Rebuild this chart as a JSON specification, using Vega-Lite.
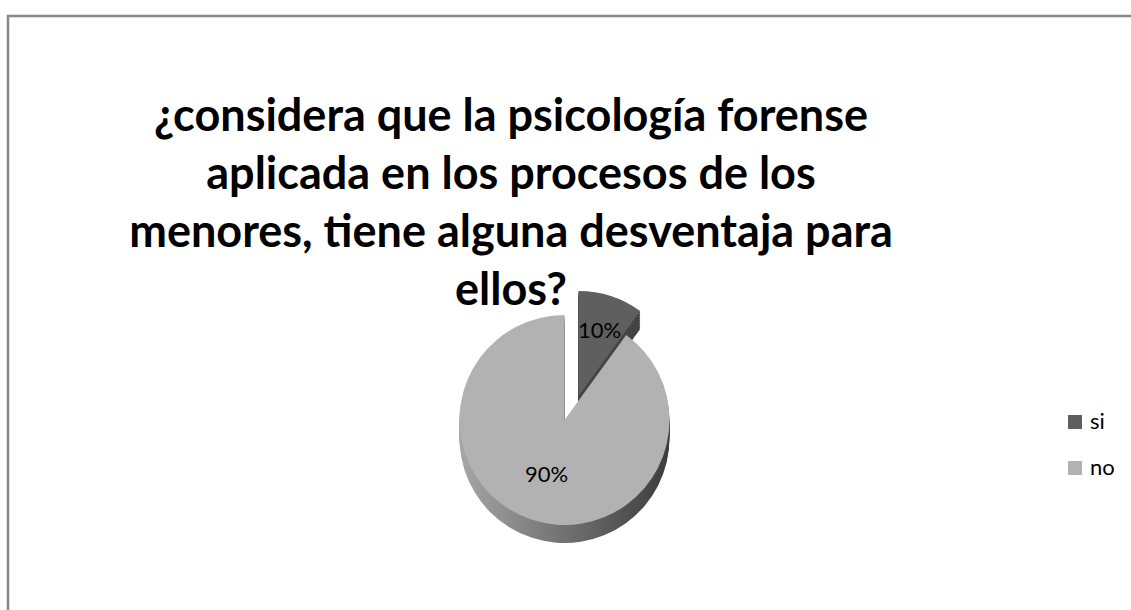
{
  "$schema": "https://vega.github.io/schema/vega-lite/v6.json",
  "width": 1160,
  "height": 700,
  "autosize": {"type": "none"},
  "padding": {"left": 8, "top": 16, "right": -37, "bottom": -106},
  "background": "white",
  "view": {"stroke": "#888888", "strokeWidth": 2.5},
  "title": {
    "text": ["¿considera que la psicología forense", "aplicada en los procesos de los", "menores, tiene alguna desventaja para", "ellos?"],
    "font": "Lato",
    "fontSize": 45,
    "fontWeight": "bold",
    "color": "#000000",
    "lineHeight": 58,
    "anchor": "middle",
    "baseline": "alphabetic",
    "dx": -77,
    "dy": 334,
    "offset": 0
  },
  "data": {
    "values": [
      {"respuesta": "si", "porcentaje": 10, "orden": 1, "etiqueta": "10%"},
      {"respuesta": "no", "porcentaje": 90, "orden": 2, "etiqueta": "90%"}
    ]
  },
  "layer": [
    {
      "transform": [
        {"stack": "porcentaje", "groupby": [], "sort": [{"field": "orden", "order": "ascending"}], "as": ["inicio", "fin"]}
      ],
      "encoding": {
        "theta": {"field": "inicio", "type": "quantitative", "scale": {"domain": [0, 100]}},
        "theta2": {"field": "fin"}
      },
      "layer": [
        {"transform": [{"filter": "datum.respuesta === 'si'"}], "mark": {"type": "arc", "radius": 105, "fill": "#444444", "xOffset": -9.5, "yOffset": 48}},
        {"transform": [{"filter": "datum.respuesta === 'si'"}], "mark": {"type": "arc", "radius": 105, "fill": "#444444", "xOffset": -9.5, "yOffset": 46.5}},
        {"transform": [{"filter": "datum.respuesta === 'si'"}], "mark": {"type": "arc", "radius": 105, "fill": "#444444", "xOffset": -9.5, "yOffset": 45}},
        {"transform": [{"filter": "datum.respuesta === 'si'"}], "mark": {"type": "arc", "radius": 105, "fill": "#444444", "xOffset": -9.5, "yOffset": 43.5}},
        {"transform": [{"filter": "datum.respuesta === 'si'"}], "mark": {"type": "arc", "radius": 105, "fill": "#444444", "xOffset": -9.5, "yOffset": 42}},
        {"transform": [{"filter": "datum.respuesta === 'si'"}], "mark": {"type": "arc", "radius": 105, "fill": "#444444", "xOffset": -9.5, "yOffset": 40.5}},
        {"transform": [{"filter": "datum.respuesta === 'si'"}], "mark": {"type": "arc", "radius": 105, "fill": "#444444", "xOffset": -9.5, "yOffset": 39}},
        {"transform": [{"filter": "datum.respuesta === 'si'"}], "mark": {"type": "arc", "radius": 105, "fill": "#444444", "xOffset": -9.5, "yOffset": 37.5}},
        {"transform": [{"filter": "datum.respuesta === 'si'"}], "mark": {"type": "arc", "radius": 105, "fill": "#444444", "xOffset": -9.5, "yOffset": 36}},
        {"transform": [{"filter": "datum.respuesta === 'si'"}], "mark": {"type": "arc", "radius": 105, "fill": "#444444", "xOffset": -9.5, "yOffset": 34.5}},
        {"transform": [{"filter": "datum.respuesta === 'si'"}], "mark": {"type": "arc", "radius": 105, "fill": "#444444", "xOffset": -9.5, "yOffset": 33}},
        {"transform": [{"filter": "datum.respuesta === 'si'"}], "mark": {"type": "arc", "radius": 105, "fill": "#444444", "xOffset": -9.5, "yOffset": 31.5}},
        {
          "transform": [{"filter": "datum.respuesta === 'si'"}],
          "mark": {"type": "arc", "radius": 105, "xOffset": -9.5, "yOffset": 30},
          "encoding": {
            "color": {"field": "respuesta", "type": "nominal", "scale": {"domain": ["si", "no"], "range": ["#5f5f5f", "#b2b2b2"]},
              "legend": {"title": null, "orient": "none", "legendX": 1056, "legendY": 395, "symbolType": "square", "symbolSize": 196, "symbolStrokeWidth": 0, "labelFont": "Lato", "labelFontSize": 22, "labelColor": "#000000", "labelOffset": 4, "rowPadding": 24}}
          }
        },
        {"transform": [{"filter": "datum.respuesta === 'no'"}], "mark": {"type": "arc", "radius": 105, "xOffset": -23.5, "yOffset": 72, "fill": {"gradient": "linear", "x1": 0, "x2": 1, "y1": 0, "y2": 0, "stops": [{"offset": 0, "color": "#a6a6a6"}, {"offset": 1, "color": "#3c3c3c"}]}}},
        {"transform": [{"filter": "datum.respuesta === 'no'"}], "mark": {"type": "arc", "radius": 105, "xOffset": -23.5, "yOffset": 70, "fill": {"gradient": "linear", "x1": 0, "x2": 1, "y1": 0, "y2": 0, "stops": [{"offset": 0, "color": "#a6a6a6"}, {"offset": 1, "color": "#3c3c3c"}]}}},
        {"transform": [{"filter": "datum.respuesta === 'no'"}], "mark": {"type": "arc", "radius": 105, "xOffset": -23.5, "yOffset": 68, "fill": {"gradient": "linear", "x1": 0, "x2": 1, "y1": 0, "y2": 0, "stops": [{"offset": 0, "color": "#a6a6a6"}, {"offset": 1, "color": "#3c3c3c"}]}}},
        {"transform": [{"filter": "datum.respuesta === 'no'"}], "mark": {"type": "arc", "radius": 105, "xOffset": -23.5, "yOffset": 66, "fill": {"gradient": "linear", "x1": 0, "x2": 1, "y1": 0, "y2": 0, "stops": [{"offset": 0, "color": "#a6a6a6"}, {"offset": 1, "color": "#3c3c3c"}]}}},
        {"transform": [{"filter": "datum.respuesta === 'no'"}], "mark": {"type": "arc", "radius": 105, "xOffset": -23.5, "yOffset": 64, "fill": {"gradient": "linear", "x1": 0, "x2": 1, "y1": 0, "y2": 0, "stops": [{"offset": 0, "color": "#a6a6a6"}, {"offset": 1, "color": "#3c3c3c"}]}}},
        {"transform": [{"filter": "datum.respuesta === 'no'"}], "mark": {"type": "arc", "radius": 105, "xOffset": -23.5, "yOffset": 62, "fill": {"gradient": "linear", "x1": 0, "x2": 1, "y1": 0, "y2": 0, "stops": [{"offset": 0, "color": "#a6a6a6"}, {"offset": 1, "color": "#3c3c3c"}]}}},
        {"transform": [{"filter": "datum.respuesta === 'no'"}], "mark": {"type": "arc", "radius": 105, "xOffset": -23.5, "yOffset": 60, "fill": {"gradient": "linear", "x1": 0, "x2": 1, "y1": 0, "y2": 0, "stops": [{"offset": 0, "color": "#a6a6a6"}, {"offset": 1, "color": "#3c3c3c"}]}}},
        {"transform": [{"filter": "datum.respuesta === 'no'"}], "mark": {"type": "arc", "radius": 105, "xOffset": -23.5, "yOffset": 58, "fill": {"gradient": "linear", "x1": 0, "x2": 1, "y1": 0, "y2": 0, "stops": [{"offset": 0, "color": "#a6a6a6"}, {"offset": 1, "color": "#3c3c3c"}]}}},
        {"transform": [{"filter": "datum.respuesta === 'no'"}], "mark": {"type": "arc", "radius": 105, "xOffset": -23.5, "yOffset": 56, "fill": {"gradient": "linear", "x1": 0, "x2": 1, "y1": 0, "y2": 0, "stops": [{"offset": 0, "color": "#a6a6a6"}, {"offset": 1, "color": "#3c3c3c"}]}}},
        {
          "transform": [{"filter": "datum.respuesta === 'no'"}],
          "mark": {"type": "arc", "radius": 105, "xOffset": -23.5, "yOffset": 54},
          "encoding": {
            "color": {"field": "respuesta", "type": "nominal", "scale": {"domain": ["si", "no"], "range": ["#5f5f5f", "#b2b2b2"]}}
          }
        }
      ]
    },
    {
      "mark": {"type": "text", "radius": 68, "xOffset": -9.5, "yOffset": 30, "font": "Lato", "fontSize": 22, "color": "#000000"},
      "encoding": {
        "theta": {"field": "porcentaje", "type": "quantitative", "stack": true},
        "order": {"field": "orden"},
        "text": {"condition": {"test": "datum.respuesta === 'si'", "field": "etiqueta"}, "value": ""}
      }
    },
    {
      "mark": {"type": "text", "radius": 58, "xOffset": -23.5, "yOffset": 54, "font": "Lato", "fontSize": 22, "color": "#000000"},
      "encoding": {
        "theta": {"field": "porcentaje", "type": "quantitative", "stack": true},
        "order": {"field": "orden"},
        "text": {"condition": {"test": "datum.respuesta === 'no'", "field": "etiqueta"}, "value": ""}
      }
    }
  ]
}
